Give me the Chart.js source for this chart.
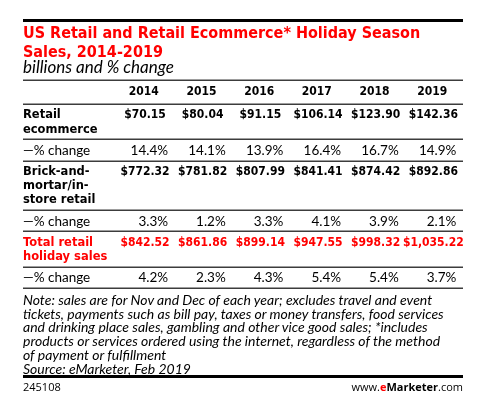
<!DOCTYPE html>
<html>
<head>
<meta charset="utf-8">
<script src="https://cdn.jsdelivr.net/npm/chart.js@4"></script>
<style>
  body { margin: 0; background: #fff; }
  #wrap { position: relative; width: 504px; height: 404px; overflow: hidden; }
  #wrap canvas { position: absolute; left: 0; top: 0; }
  .rule { position: absolute; left: 23px; width: 440px; background: #000; }
  .title { position: absolute; left: 23px; top: 24px; font: bold 16px "DejaVu Sans Condensed", "DejaVu Sans"; line-height: 18.5px; color: #f00; white-space: nowrap; }
  .subtitle { position: absolute; left: 23px; top: 58px; font: italic 17px Lato; line-height: 18px; color: #000; }
  .note { position: absolute; left: 23px; top: 293px; font: italic 14px Lato; line-height: 13.7px; color: #000; white-space: nowrap; }
  .foot { position: absolute; top: 380px; font: 11px "Open Sans"; line-height: 14px; color: #000; }
</style>
</head>
<body>
<div id="wrap">
  <canvas id="table" width="504" height="404"></canvas>
  <div class="rule" style="top:19px;height:3px"></div>
  <div class="title">US Retail and Retail Ecommerce* Holiday Season<br>Sales, 2014-2019</div>
  <div class="subtitle">billions and % change</div>
  <div class="note">Note: sales are for Nov and Dec of each year; excludes travel and event<br>tickets, payments such as bill pay, taxes or money transfers, food services<br>and drinking place sales, gambling and other vice good sales; *includes<br>products or services ordered using the internet, regardless of the method<br>of payment or fulfillment<br>Source: eMarketer, Feb 2019</div>
  <div class="rule" style="top:375px;height:3px"></div>
  <div class="foot" style="left:23px">245108</div>
  <div class="foot" style="right:41px">www.<b style="color:#f00">e</b><b>Marketer</b>.com</div>
</div>
<script>
// Data --------------------------------------------

const years = ['2014', '2015', '2016', '2017', '2018', '2019'];

const ecommerce = [70.15, 80.04, 91.15, 106.14, 123.90, 142.36];
const ecommerceChange = [14.4, 14.1, 13.9, 16.4, 16.7, 14.9];
const store = [772.32, 781.82, 807.99, 841.41, 874.42, 892.86];
const storeChange = [3.3, 1.2, 3.3, 4.1, 3.9, 2.1];
const total = [842.52, 861.86, 899.14, 947.55, 998.32, 1035.22];
const totalChange = [4.2, 2.3, 4.3, 5.4, 5.4, 3.7];

const ecommerceLabel = ['Retail', 'ecommerce'];
const storeLabel = ['Brick-and-', 'mortar/in-', 'store retail'];
const totalLabel = ['Total retail', 'holiday sales'];
const changeLabel = ['\u2014% change'];

// Rows --------------------------------------------

const BOLD = 'bold 12px "DejaVu Sans Condensed", "DejaVu Sans"';
const LABEL_BOLD = 'bold 11.5px "DejaVu Sans"';
const PLAIN = '13.5px Lato';
const RED = '#f00';

const rows = [
  { label: ecommerceLabel, values: ecommerce, kind: 'money', color: '#000' },
  { label: changeLabel, values: ecommerceChange, kind: 'pct', color: '#000' },
  { label: storeLabel, values: store, kind: 'money', color: '#000' },
  { label: changeLabel, values: storeChange, kind: 'pct', color: '#000' },
  { label: totalLabel, values: total, kind: 'money', color: RED },
  { label: changeLabel, values: totalChange, kind: 'pct', color: '#000' },
];

// row heights in text lines, plus a little padding
const HEADER = 1.7;
const PAD = 0.5;
const bounds = [0, HEADER];
rows.forEach(r => bounds.push(bounds[bounds.length - 1] + r.label.length + PAD));
const yMax = bounds[bounds.length - 1];

function fmt(v, kind) {
  if (kind === 'pct') return v.toFixed(1) + '%';
  return '$' + v.toLocaleString('en-US', { minimumFractionDigits: 2, maximumFractionDigits: 2 });
}

// Table plugin --------------------------------------------

const TABLE_LEFT = 23;
const TABLE_RIGHT = 463;

const tablePlugin = {
  id: 'table',
  afterDraw(chart) {
    const { ctx } = chart;
    const x = chart.scales.x;
    const y = chart.scales.y;
    const colW = x.getPixelForValue(1) - x.getPixelForValue(0);

    ctx.save();
    ctx.textBaseline = 'middle';

    // header
    ctx.font = BOLD;
    ctx.fillStyle = '#000';
    ctx.textAlign = 'center';
    years.forEach((yr, i) => {
      ctx.fillText(yr, x.getPixelForValue(i), y.getPixelForValue(HEADER / 2));
    });

    // body: money centred on the column, percentages right aligned
    rows.forEach((row, r) => {
      const top = bounds[r + 1];
      ctx.fillStyle = row.color;

      ctx.textAlign = 'left';
      ctx.font = row.kind === 'money' ? LABEL_BOLD : PLAIN;
      row.label.forEach((line, k) => {
        ctx.fillText(line, TABLE_LEFT, y.getPixelForValue(top + 0.8 + k));
      });

      ctx.font = row.kind === 'money' ? BOLD : PLAIN;
      ctx.textAlign = row.kind === 'money' ? 'center' : 'right';
      const shift = row.kind === 'money' ? 0.02 : 0.42;
      row.values.forEach((v, i) => {
        ctx.fillText(fmt(v, row.kind), x.getPixelForValue(i) + colW * shift, y.getPixelForValue(top + 0.8));
      });
    });

    // separators
    ctx.strokeStyle = '#3c3c3c';
    ctx.lineWidth = 1.5;
    bounds.forEach(b => {
      const py = Math.round(y.getPixelForValue(b)) + 0.25;
      ctx.beginPath();
      ctx.moveTo(TABLE_LEFT, py);
      ctx.lineTo(TABLE_RIGHT, py);
      ctx.stroke();
    });
    ctx.restore();
  }
};

// Chart --------------------------------------------

let ctx = document.getElementById('table').getContext('2d');
let chart = new Chart(ctx, {
  type: 'line',
  data: {
    labels: years,
    datasets: []
  },
  options: {
    responsive: false,
    animation: false,
    devicePixelRatio: 1,
    layout: {
      padding: { left: 115, right: 43, top: 80, bottom: 116 }
    },
    plugins: {
      legend: { display: false },
      tooltip: { enabled: false }
    },
    scales: {
      x: { type: 'category', offset: true, display: false },
      y: { type: 'linear', min: 0, max: yMax, reverse: true, display: false }
    }
  },
  plugins: [tablePlugin]
});
</script>
</body>
</html>
